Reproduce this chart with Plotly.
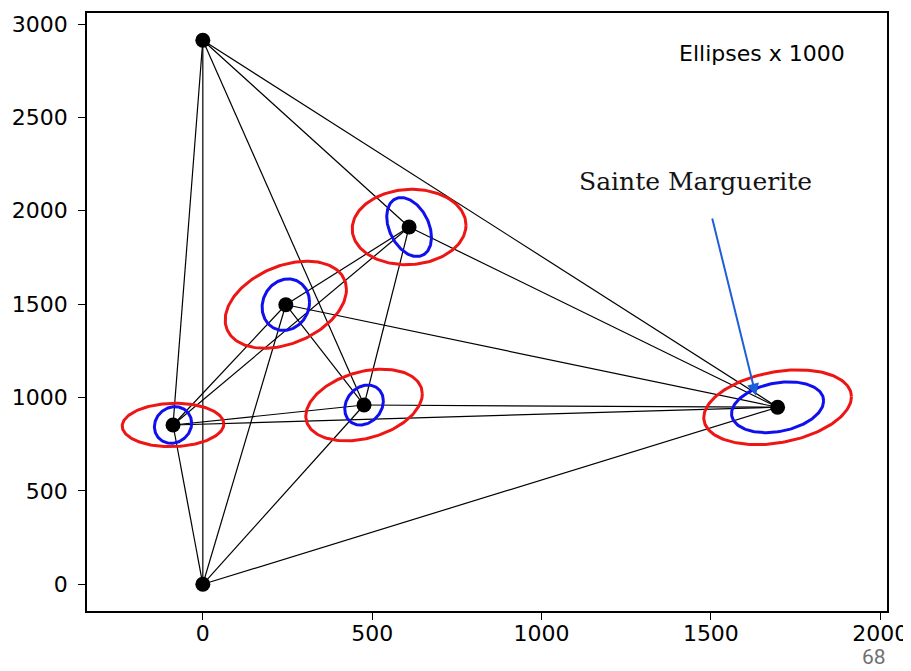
import numpy as np
import plotly.graph_objects as go

# Station coordinates (m)
east = [0, 0, -88, 245, 609, 476, 1697]
north = [2913, 0, 853, 1497, 1913, 960, 948]

# Observed baselines (station index pairs)
edges = [(0, 1), (0, 2), (0, 4), (0, 5), (0, 6),
         (1, 2), (1, 3), (1, 5), (1, 6),
         (2, 3), (2, 4), (2, 5), (2, 6),
         (3, 4), (3, 5), (3, 6),
         (4, 5), (4, 6),
         (5, 6)]

# Error ellipses (x1000) for free stations 2..6: x/y extents and correlation
ell_station = [2, 3, 4, 5, 6]
red_sx = [150, 179, 168, 172, 218]
red_sy = [116, 233, 202, 192, 200]
red_rho = [0.05, 0.35, 0.05, 0.31, 0.28]
blue_sx = [55, 70, 66, 57, 136]
blue_sy = [98, 138, 158, 107, 136]
blue_rho = [0.10, 0.10, -0.35, 0.20, 0.25]

x_ticks = [0, 500, 1000, 1500, 2000]
y_ticks = [0, 500, 1000, 1500, 2000, 2500, 3000]

fig = go.Figure()

# baselines
ex, ey = [], []
for i, j in edges:
    ex += [east[i], east[j], None]
    ey += [north[i], north[j], None]
fig.add_trace(go.Scatter(x=ex, y=ey, mode="lines",
                         line=dict(color="black", width=1.2),
                         hoverinfo="skip", showlegend=False))

t = np.linspace(0, 2 * np.pi, 181)


def ellipse(cx, cy, sx, sy, rho):
    xs = cx + sx * np.cos(t)
    ys = cy + sy * (rho * np.cos(t) + np.sqrt(1 - rho ** 2) * np.sin(t))
    return xs, ys


for k, s in enumerate(ell_station):
    xs, ys = ellipse(east[s], north[s], red_sx[k], red_sy[k], red_rho[k])
    fig.add_trace(go.Scatter(x=xs, y=ys, mode="lines",
                             line=dict(color="#ee1515", width=3),
                             hoverinfo="skip", showlegend=False))
    xs, ys = ellipse(east[s], north[s], blue_sx[k], blue_sy[k], blue_rho[k])
    fig.add_trace(go.Scatter(x=xs, y=ys, mode="lines",
                             line=dict(color="#1010ee", width=3),
                             hoverinfo="skip", showlegend=False))

fig.add_trace(go.Scatter(x=east, y=north, mode="markers",
                         marker=dict(color="black", size=15),
                         showlegend=False))

fig.add_annotation(x=1650, y=2843, xref="x", yref="y", text="Ellipses x 1000",
                   showarrow=False,
                   font=dict(family="DejaVu Sans", size=22, color="black"))
fig.add_annotation(x=1454, y=2159, xref="x", yref="y", text="Sainte Marguerite",
                   showarrow=False,
                   font=dict(family="DejaVu Serif", size=25, color="#141414"))
fig.add_annotation(x=1633, y=1010, xref="x", yref="y",
                   ax=1503, ay=1967, axref="x", ayref="y",
                   text="", showarrow=True, arrowhead=2, arrowsize=1.2,
                   arrowwidth=2, arrowcolor="#1d5fd8", standoff=0)
fig.add_annotation(x=0.9835, y=-0.077, xref="paper", yref="paper", text="68",
                   xanchor="center", yanchor="middle", showarrow=False,
                   font=dict(family="Roboto", size=21, color="#707070"))

axis_common = dict(showgrid=False, zeroline=False, showline=True,
                   linecolor="black", linewidth=1.5, mirror=True,
                   ticks="outside", ticklen=7, tickwidth=1.2, tickcolor="black",
                   tickfont=dict(family="DejaVu Sans", size=22, color="black"))

# page body has an 8px default margin, so the figure is sized to fit the window
fig.update_layout(
    width=903, height=663,
    margin=dict(l=79, r=23, t=3, b=60),
    plot_bgcolor="white", paper_bgcolor="white",
    xaxis=dict(range=[-342, 2020], tickvals=x_ticks, ticklabelstandoff=-5,
               **axis_common),
    yaxis=dict(range=[-143, 3059], tickvals=y_ticks, ticklabelstandoff=6,
               **axis_common),
)

fig.write_html("out.html")
